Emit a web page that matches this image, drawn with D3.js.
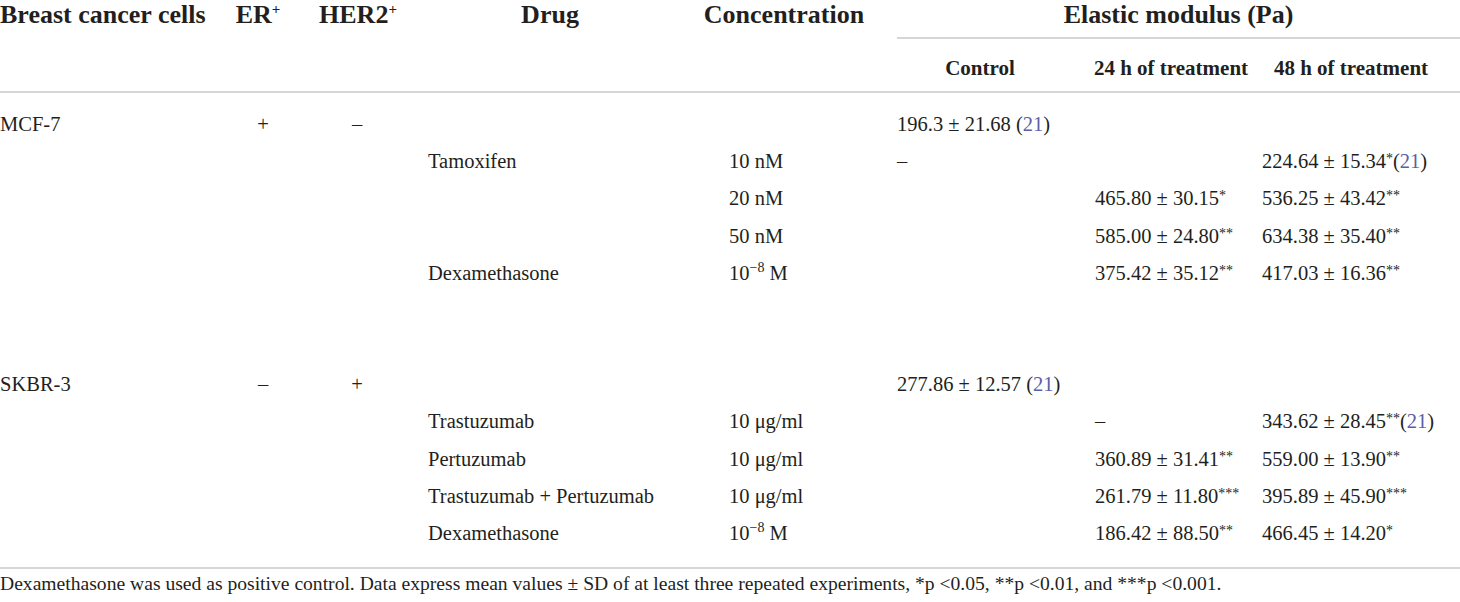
<!DOCTYPE html>
<html>
<head>
<meta charset="utf-8">
<script src="https://cdn.jsdelivr.net/npm/d3@7"></script>
<style>
  body { margin: 0; background: #fff; }
  svg text { font-family: "Liberation Serif", "Times New Roman", serif; fill: #231f20; }
</style>
</head>
<body>
<svg id="chart" width="1460" height="602"></svg>
<script>
// table data
var cellLines = ["MCF-7", "SKBR-3"];
var erStatus = ["+", "\u2013"];
var her2Status = ["\u2013", "+"];
var controlLabels = ["196.3 \u00b1 21.68", "277.86 \u00b1 12.57"];
var controlRef = "21";

var drugs = ["Tamoxifen", "", "", "Dexamethasone", "Trastuzumab", "Pertuzumab", "Trastuzumab + Pertuzumab", "Dexamethasone"];
var concentrations = ["10 nM", "20 nM", "50 nM", "10^\u22128 M", "10 \u03bcg/ml", "10 \u03bcg/ml", "10 \u03bcg/ml", "10^\u22128 M"];
var drugCell = [0, 0, 0, 0, 1, 1, 1, 1];
var controlDash = [true, false, false, false, false, false, false, false];

var mean24 = [null, 465.80, 585.00, 375.42, null, 360.89, 261.79, 186.42];
var sd24 = [null, 30.15, 24.80, 35.12, null, 31.41, 11.80, 88.50];
var sig24 = [0, 1, 2, 2, 0, 2, 3, 2];
var dash24 = [false, false, false, false, true, false, false, false];

var mean48 = [224.64, 536.25, 634.38, 417.03, 343.62, 559.00, 395.89, 466.45];
var sd48 = [15.34, 43.42, 35.40, 16.36, 28.45, 13.90, 45.90, 14.20];
var sig48 = [1, 2, 2, 2, 2, 2, 3, 1];
var ref48 = ["21", null, null, null, "21", null, null, null];

var headers = ["Breast cancer cells", "ER", "HER2", "Drug", "Concentration"];
var subHeaders = ["Control", "24 h of treatment", "48 h of treatment"];
var groupHeader = "Elastic modulus (Pa)";
var footnote = "Dexamethasone was used as positive control. Data express mean values \u00b1 SD of at least three repeated experiments, *p <0.05, **p <0.01, and ***p <0.001.";

// layout
var W = 1460;
var svg = d3.select("#chart");
var fmt = d3.format(".2f");
var linkColor = "#5b5ea6";
var ruleColor = "#c9c9c9";

// column scale: left edges of data, header centres
var colKeys = ["cell", "er", "her2", "drug", "conc", "ctrl", "h24", "h48"];
var dataX = d3.scaleOrdinal().domain(colKeys).range([0, 263, 357, 428, 729, 897, 1095, 1262]);
var headX = d3.scaleOrdinal().domain(colKeys).range([0, 258, 358, 550, 784, 980, 1171, 1351]);

// row scale: row index -> baseline
var rowY = d3.scaleLinear().domain([0, 11]).range([131, 540]);
var cellRow = [0, 7];
function drugRow(i) { return cellRow[drugCell[i]] + 1 + (i - (drugCell[i] === 0 ? 0 : 4)); }

// rules
var rules = [
  { x1: dataX("ctrl"), x2: W, y: 38 },
  { x1: 0, x2: W, y: 92 },
  { x1: 0, x2: W, y: 568 }
];
svg.selectAll("line.rule").data(rules).enter().append("line")
  .attr("class", "rule")
  .attr("x1", d => d.x1).attr("x2", d => d.x2)
  .attr("y1", d => d.y).attr("y2", d => d.y)
  .attr("stroke", ruleColor).attr("stroke-width", 1.6);

// headers
var hdr = svg.append("g").attr("font-weight", "bold").attr("font-size", 26);
headers.forEach(function(h, i) {
  var key = colKeys[i];
  var t = hdr.append("text")
    .attr("x", headX(key)).attr("y", 23)
    .attr("text-anchor", i === 0 ? "start" : "middle");
  t.append("tspan").text(h);
  if (i === 1 || i === 2) {
    t.append("tspan").attr("font-size", 15).attr("dy", -9).text("+");
  }
});
hdr.append("text")
  .attr("x", (dataX("ctrl") + W) / 2).attr("y", 23)
  .attr("text-anchor", "middle").text(groupHeader);

svg.append("g").attr("font-weight", "bold").attr("font-size", 21)
  .selectAll("text").data(subHeaders).enter().append("text")
  .attr("x", (d, i) => headX(colKeys[5 + i])).attr("y", 75)
  .attr("text-anchor", "middle").text(d => d);

// body
var body = svg.append("g").attr("font-size", 20.5);

function addStars(t, n) {
  if (n > 0) t.append("tspan").attr("font-size", 14).attr("dy", -5).text("*".repeat(n));
  return t;
}
function addRef(t, ref, space, lowered) {
  t.append("tspan").attr("dy", lowered ? 5 : 0).text(space ? " (" : "(");
  t.append("tspan").style("fill", linkColor).text(ref);
  t.append("tspan").text(")");
}

cellLines.forEach(function(c, i) {
  var y = rowY(cellRow[i]);
  body.append("text").attr("x", dataX("cell")).attr("y", y).text(c);
  body.append("text").attr("x", dataX("er")).attr("y", y).attr("text-anchor", "middle").text(erStatus[i]);
  body.append("text").attr("x", dataX("her2")).attr("y", y).attr("text-anchor", "middle").text(her2Status[i]);
  var t = body.append("text").attr("x", dataX("ctrl")).attr("y", y);
  t.append("tspan").text(controlLabels[i]);
  addRef(t, controlRef, true, false);
});

drugs.forEach(function(d, i) {
  var y = rowY(drugRow(i));
  if (d) body.append("text").attr("x", dataX("drug")).attr("y", y).text(d);

  var conc = concentrations[i].split("^");
  var ct = body.append("text").attr("x", dataX("conc")).attr("y", y);
  ct.append("tspan").text(conc[0]);
  if (conc.length > 1) {
    var parts = conc[1].split(" ");
    ct.append("tspan").attr("font-size", 14).attr("dy", -8).text(parts[0]);
    ct.append("tspan").attr("dy", 8).text(" " + parts[1]);
  }

  if (controlDash[i]) body.append("text").attr("x", dataX("ctrl")).attr("y", y).text("\u2013");

  if (dash24[i]) {
    body.append("text").attr("x", dataX("h24")).attr("y", y).text("\u2013");
  } else if (mean24[i] != null) {
    var t24 = body.append("text").attr("x", dataX("h24")).attr("y", y);
    t24.append("tspan").text(fmt(mean24[i]) + " \u00b1 " + fmt(sd24[i]));
    addStars(t24, sig24[i]);
  }

  var t48 = body.append("text").attr("x", dataX("h48")).attr("y", y);
  t48.append("tspan").text(fmt(mean48[i]) + " \u00b1 " + fmt(sd48[i]));
  addStars(t48, sig48[i]);
  if (ref48[i]) addRef(t48, ref48[i], false, true);
});

// footnote
svg.append("text").attr("x", 0).attr("y", 590).attr("font-size", 19.6).text(footnote);
</script>
</body>
</html>
